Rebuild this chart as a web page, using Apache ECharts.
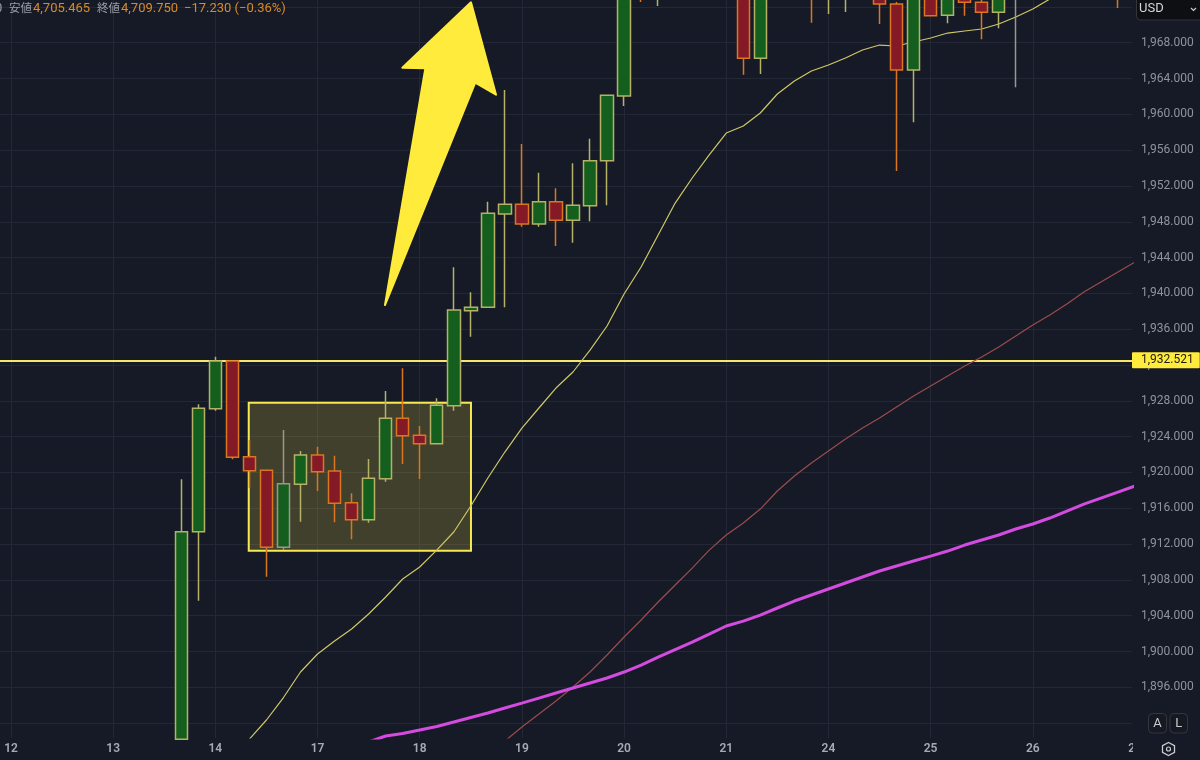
<!DOCTYPE html>
<html>
<head>
<meta charset="utf-8">
<style>html,body{margin:0;padding:0;background:#161a27}#chart{width:1200px;height:760px}</style>
<script src="https://cdn.jsdelivr.net/npm/echarts@6/dist/echarts.min.js"></script>
</head>
<body>
<div id="chart"></div>
<script>
// 4-hour candles, indexed from the "12" session tick; six candles per session.
const firstCandle = 10;
const opens = [1890.2,1913.38,1927.12,1932.45,1921.76,1920.24,1911.64,1918.67,1921.95,1920.16,1916.62,1914.72,1919.3,1926.05,1924.15,1923.21,1927.45,1938.07,1938.44,1948.87,1949.95,1947.75,1950.24,1948.16,1949.79,1954.82,1962.05,1978,1977,1984,1981,1983,1985,1982,1966.26,1983,1979,1980,1977,1976,1978,1975,1972.32,1964.95,1978,1971.06,1975,1972.51,1971.4,1974,1977,1975,1979,1977,1980,1978];
const closes = [1913.38,1927.16,1932.45,1921.69,1920.19,1911.64,1918.74,1921.95,1920.08,1916.55,1914.72,1919.34,1926.05,1924.1,1923.21,1927.5,1938.14,1938.44,1948.94,1949.95,1947.75,1950.24,1948.16,1949.84,1954.82,1962.12,1976,1976,1980,1981,1983,1985,1982,1966.26,1982,1979,1983,1977,1979,1978,1975,1972.32,1964.95,1978,1971.02,1975,1972.51,1971.4,1974,1977,1975,1979,1977,1980,1978,1976];
const lows = [1890.2,1905.67,1926.9,1921.47,1918.26,1908.35,1911.33,1914.5,1917.93,1914.43,1912.53,1914.38,1918.96,1920.94,1919.27,1923.21,1926.9,1935.16,1938.44,1938.44,1947.45,1947.45,1945.29,1945.66,1948.05,1949.84,1960.93,1972.55,1972.1,1979,1979,1981,1980,1964.43,1964.5,1976,1976,1970.23,1971.21,1971.43,1973.5,1970.09,1953.67,1959.11,1971.02,1970.17,1971.02,1968.38,1969.61,1963.02,1974,1974,1975,1976,1977,1971.88];
const highs = [1919.23,1927.61,1932.93,1932.45,1923.62,1920.24,1924.74,1922.39,1922.87,1921.87,1917.67,1921.5,1929.1,1931.63,1925.19,1928.28,1942.91,1940.12,1950.24,1962.72,1956.69,1953.48,1951.74,1954.53,1957.28,1962.19,1978,1979,1981,1985,1984,1986,1986,1983,1984,1984,1984,1982,1981,1980,1979,1976,1972.55,1979,1979,1976,1976,1974,1975,1978,1978,1980,1980,1981,1981,1979];
// Candles whose outline and wick are drawn in neutral grey.
const greyCandles = [16, 59];

// Moving averages, each starting where it enters the visible price range.
const shortMaStart = 14;
const shortMa = [1890.22,1892.35,1894.86,1897.71,1899.72,1901.17,1902.51,1904.19,1906.09,1908.1,1909.44,1911.33,1913.35,1916.25,1919.38,1922.28,1924.96,1927.2,1929.43,1931.22,1933.67,1936.36,1939.93,1942.95,1946.52,1950.09,1952.89,1955.46,1957.91,1958.7,1960.15,1962.27,1963.72,1964.84,1965.51,1966.29,1967.18,1967.74,1967.63,1968.08,1968.53,1969.08,1969.31,1969.53,1970.09,1970.87,1971.76,1972.88,1974.11];
const midMaStart = 29;
const midMa = [1890,1891.56,1893.02,1894.47,1896.03,1897.71,1899.61,1901.62,1903.52,1905.53,1907.43,1909.32,1911.33,1913.01,1914.35,1915.91,1917.93,1919.6,1921.05,1922.39,1923.73,1924.96,1926.08,1927.31,1928.54,1929.65,1930.77,1931.89,1932.89,1934.01,1935.24,1936.47,1937.58,1938.81,1940.15,1941.27,1942.39,1943.5];
const longMaStart = 21;
const longMa = [1889.9,1890.56,1890.84,1891.23,1891.62,1892.12,1892.63,1893.13,1893.69,1894.24,1894.8,1895.36,1895.92,1896.48,1897.04,1897.71,1898.49,1899.38,1900.22,1901.06,1901.95,1902.85,1903.4,1904.07,1904.86,1905.64,1906.31,1906.98,1907.65,1908.32,1908.99,1909.55,1910.11,1910.66,1911.22,1911.89,1912.45,1913.01,1913.68,1914.24,1914.91,1915.69,1916.47,1917.14,1917.81,1918.48];

// Axis ticks.
const dayTicks = [0,6,12,18,24,30,36,42,48,54,60];
const dayLabels = ['12','13','14','17','18','19','20','21','24','25','26'];
const priceLabels = [1896,1900,1904,1908,1912,1916,1920,1924,1928,1932,1936,1940,1944,1948,1952,1956,1960,1964,1968];
const priceGrid = [1892].concat(priceLabels, [1972]);

// Annotations in chart coordinates: resistance level, consolidation box, breakout arrow.
const resistance = 1932.521;
const rangeBox = [[13.96,1927.79],[27.01,1911.26]];
const arrowK = [27.01,28.48,27.26,21.96,24.33,22.98];
const arrowPrice = [1972.51,1962.19,1963.53,1938.7,1965.14,1965.21];

const BG = '#161a27', GRID = '#242836', FONT = 'Roboto, sans-serif';
const candles = opens.map((o, i) => {
  const k = firstCandle + i;
  const value = [k, o, closes[i], lows[i], highs[i]];
  return greyCandles.includes(k) ? {value, itemStyle: {borderColor: '#9d978a'}} : value;
});
const series = (values, start) => values.map((v, i) => [start + i, v]);
const price = v => v.toLocaleString('en-US', {minimumFractionDigits: 3, maximumFractionDigits: 3});

const headText = (text, x, fill, size) => ({type: 'text', x, y: 9, z: 50, style: {
  text, fill, font: (size || 13) + 'px Roboto, "Noto Sans CJK JP", sans-serif', verticalAlign: 'middle'
}});
const button = (text, x, w) => [
  {type: 'rect', z: 50, shape: {x, y: 713.5, width: w, height: 19.5, r: 4}, style: {fill: '#161822', stroke: '#34373f', lineWidth: 1}},
  {type: 'text', z: 51, x: x + w / 2, y: 723.5, style: {text, fill: '#c9cbd0', font: '13px ' + FONT, align: 'center', verticalAlign: 'middle'}}
];

const chart = echarts.init(document.getElementById('chart'), null, {renderer: 'canvas'});
chart.setOption({
  animation: false,
  backgroundColor: BG,
  grid: {left: 0, top: 0, width: 1132, height: 738},
  xAxis: {
    type: 'value', min: -0.6459, max: 65.826,
    axisLine: {show: false},
    axisTick: {show: false, customValues: dayTicks},
    splitLine: {show: true, lineStyle: {color: GRID, width: 1}},
    axisLabel: {
      customValues: dayTicks, margin: 5, color: '#a7aab3', fontFamily: FONT, fontSize: 12, fontWeight: 600,
      formatter: v => dayLabels[dayTicks.indexOf(v)]
    }
  },
  yAxis: {
    type: 'value', position: 'right', min: 1890.34, max: 1972.77,
    axisLine: {show: false},
    axisTick: {show: false, customValues: priceGrid},
    splitLine: {show: true, lineStyle: {color: GRID, width: 1}},
    axisLabel: {customValues: priceLabels, margin: 9, color: '#90939c', fontFamily: FONT, fontSize: 12, formatter: price}
  },
  series: [
    {
      type: 'line', name: 'MA short', z: 1, data: series(shortMa, shortMaStart), showSymbol: false,
      lineStyle: {color: '#cfc766', width: 1.2},
      markArea: {
        silent: true, z: 1,
        data: [[{coord: rangeBox[0]}, {coord: rangeBox[1]}]],
        itemStyle: {color: 'rgba(220,200,70,0.22)', borderColor: '#f7e94f', borderWidth: 2}
      },
      markLine: {
        silent: true, symbol: 'none', z: 1,
        data: [{yAxis: resistance}],
        lineStyle: {color: '#f3e66b', width: 2, type: 'solid'},
        label: {
          position: 'end', distance: 0, formatter: price(resistance),
          backgroundColor: '#ffeb3b', color: '#1c1c14', fontFamily: FONT, fontSize: 12, padding: [2, 6, 2, 9], borderRadius: 1
        }
      }
    },
    {type: 'line', name: 'MA mid', z: 1, data: series(midMa, midMaStart), showSymbol: false, lineStyle: {color: '#9a4c4c', width: 1.2}},
    {type: 'line', name: 'MA long', z: 1, data: series(longMa, longMaStart), showSymbol: false, lineStyle: {color: '#d44be0', width: 3}},
    {
      type: 'candlestick', name: 'Price', z: 3, data: candles, barWidth: 13,
      encode: {x: 0, y: [1, 2, 3, 4]},
      itemStyle: {color: '#155f1e', color0: '#851a27', borderColor: '#b5b268', borderColor0: '#dc761e', borderWidth: 1.5}
    },
    {
      type: 'custom', name: 'Breakout arrow', z: 5, data: [[arrowK[0], arrowPrice[0]]],
      renderItem: (params, api) => ({
        type: 'polygon',
        shape: {points: arrowK.map((k, i) => api.coord([k, arrowPrice[i]]))},
        style: {fill: '#ffeb3b', stroke: '#ffeb3b', lineWidth: 2, lineJoin: 'round'}
      })
    }
  ],
  graphic: [
    headText('0', -5, '#9a9ea8'),
    headText('安値', 9, '#9a9ea8', 11.5),
    headText('4,705.465', 33, '#d98a29'),
    headText('終値', 97, '#9a9ea8', 11.5),
    headText('4,709.750', 121, '#d98a29'),
    headText('−17.230 (−0.36%)', 184, '#d98a29'),
    // Partly hidden next session label at the right end of the time scale.
    {type: 'text', z: 40, x: 1135, y: 749, style: {text: '27', fill: '#a7aab3', font: '600 12px ' + FONT, align: 'center', verticalAlign: 'middle'}},
    {type: 'rect', z: 41, shape: {x: 1133, y: 738, width: 67, height: 22}, style: {fill: BG}},
    // Currency selector.
    {type: 'rect', z: 50, shape: {x: 1136.5, y: -6, width: 70, height: 26, r: 4}, style: {fill: '#0e0f13', stroke: '#33353c', lineWidth: 1}},
    {type: 'text', z: 51, x: 1139, y: 9, style: {text: 'USD', fill: '#d4d5d8', font: '13px ' + FONT, verticalAlign: 'middle'}},
    {type: 'polyline', z: 51, shape: {points: [[1191, 8], [1193.5, 10.5], [1196, 8]]}, style: {fill: 'none', stroke: '#c9cbd0', lineWidth: 1.2}},
    ...button('A', 1148.5, 18),
    ...button('L', 1170, 17.5),
    // Settings button.
    {type: 'polygon', z: 50, shape: {points: [[1168.5, 742.5], [1174.5, 745.7], [1174.5, 752.3], [1168.5, 755.5], [1162.5, 752.3], [1162.5, 745.7]]}, style: {fill: 'none', stroke: '#c9cbd0', lineWidth: 1.3}},
    {type: 'circle', z: 50, shape: {cx: 1168.5, cy: 749, r: 2}, style: {fill: 'none', stroke: '#c9cbd0', lineWidth: 1.2}}
  ]
});
</script>
</body>
</html>
